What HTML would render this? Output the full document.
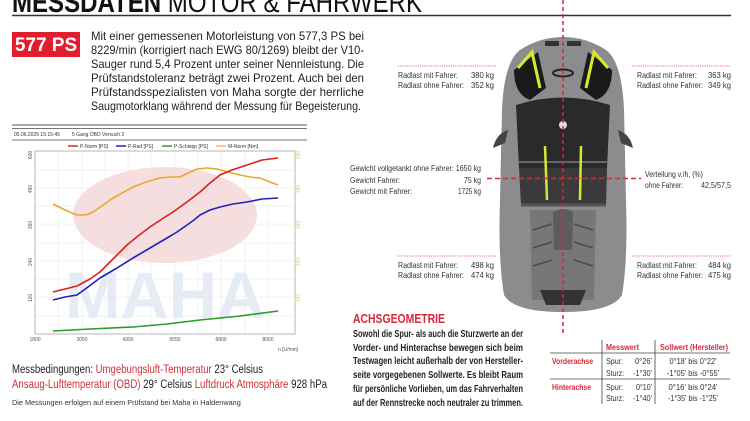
<!DOCTYPE html>
<html><head><meta charset="utf-8"><style>
html,body{margin:0;padding:0;background:#fff;width:750px;height:421px;overflow:hidden}
svg{display:block}
text{font-family:"Liberation Sans",sans-serif}
</style></head><body>
<svg width="750" height="421" viewBox="0 0 750 421" xmlns="http://www.w3.org/2000/svg">
<text x="12" y="12" font-size="29" fill="#111" textLength="410" lengthAdjust="spacingAndGlyphs"><tspan font-weight="bold">MESSDATEN</tspan> MOTOR &amp; FAHRWERK</text>
<line x1="12" y1="15.5" x2="731" y2="15.5" stroke="#333" stroke-width="1.5"/>
<rect x="12" y="32" width="68" height="25" fill="#e01e2e"/>
<text x="46" y="51" font-size="19" font-weight="bold" fill="#fff" text-anchor="middle">577 PS</text>
<g font-size="12" fill="#222">
<text x="91" y="40" textLength="273" lengthAdjust="spacingAndGlyphs">Mit einer gemessenen Motorleistung von 577,3 PS bei</text>
<text x="91" y="54" textLength="273" lengthAdjust="spacingAndGlyphs">8229/min (korrigiert nach EWG 80/1269) bleibt der V10-</text>
<text x="91" y="68" textLength="273" lengthAdjust="spacingAndGlyphs">Sauger rund 5,4 Prozent unter seiner Nennleistung. Die</text>
<text x="91" y="82" textLength="273" lengthAdjust="spacingAndGlyphs">Prüfstandstoleranz beträgt zwei Prozent. Auch bei den</text>
<text x="91" y="96" textLength="273" lengthAdjust="spacingAndGlyphs">Prüfstandsspezialisten von Maha sorgte der herrliche</text>
<text x="91" y="110" textLength="270" lengthAdjust="spacingAndGlyphs">Saugmotorklang während der Messung für Begeisterung.</text>
</g>
<line x1="12" y1="125" x2="307" y2="125" stroke="#aaa" stroke-width="2"/>
<line x1="12" y1="128.5" x2="307" y2="128.5" stroke="#777"/>
<line x1="12" y1="140" x2="307" y2="140" stroke="#777"/>
<text x="14" y="136" font-size="5" fill="#333">05.06.2025 15:15:45</text>
<text x="72" y="136" font-size="5" fill="#333">5 Gang OBD Versuch 2</text>
<g font-size="5" fill="#333">
<line x1="68" y1="146" x2="78" y2="146" stroke="#d22" stroke-width="1.5"/><text x="80" y="148">P-Norm [PS]</text>
<line x1="116" y1="146" x2="126" y2="146" stroke="#22c" stroke-width="1.5"/><text x="128" y="148">P-Rad [PS]</text>
<line x1="162" y1="146" x2="172" y2="146" stroke="#393" stroke-width="1.5"/><text x="174" y="148">P-Schlepp [PS]</text>
<line x1="216" y1="146" x2="226" y2="146" stroke="#eb4" stroke-width="1.5"/><text x="228" y="148">M-Norm [Nm]</text>
</g>
<ellipse cx="165" cy="215" rx="92" ry="48" fill="#f6dede"/>
<text x="165" y="318" font-size="66" font-weight="bold" fill="#e6ecf5" text-anchor="middle" textLength="200" lengthAdjust="spacingAndGlyphs">MAHA</text>
<g stroke="#e6e6e6" stroke-width="0.5">
<line x1="35" y1="170" x2="295" y2="170"/><line x1="35" y1="188" x2="295" y2="188"/><line x1="35" y1="206" x2="295" y2="206"/><line x1="35" y1="224" x2="295" y2="224"/><line x1="35" y1="243" x2="295" y2="243"/><line x1="35" y1="261" x2="295" y2="261"/><line x1="35" y1="279" x2="295" y2="279"/><line x1="35" y1="297" x2="295" y2="297"/><line x1="35" y1="316" x2="295" y2="316"/>
<line x1="58" y1="151" x2="58" y2="334"/><line x1="82" y1="151" x2="82" y2="334"/><line x1="105" y1="151" x2="105" y2="334"/><line x1="128" y1="151" x2="128" y2="334"/><line x1="151" y1="151" x2="151" y2="334"/><line x1="175" y1="151" x2="175" y2="334"/><line x1="198" y1="151" x2="198" y2="334"/><line x1="221" y1="151" x2="221" y2="334"/><line x1="245" y1="151" x2="245" y2="334"/><line x1="268" y1="151" x2="268" y2="334"/>
</g>
<rect x="35" y="151" width="260" height="183" fill="none" stroke="#999" stroke-width="0.7"/>
<g font-size="5" fill="#555">
<text x="32" y="155" transform="rotate(-90 32 155)" text-anchor="middle">600</text>
<text x="32" y="189" transform="rotate(-90 32 189)" text-anchor="middle">480</text>
<text x="32" y="225" transform="rotate(-90 32 225)" text-anchor="middle">360</text>
<text x="32" y="262" transform="rotate(-90 32 262)" text-anchor="middle">240</text>
<text x="32" y="298" transform="rotate(-90 32 298)" text-anchor="middle">120</text>
<text x="35" y="341" text-anchor="middle">1800</text><text x="82" y="341" text-anchor="middle">3050</text><text x="128" y="341" text-anchor="middle">4300</text><text x="175" y="341" text-anchor="middle">5550</text><text x="221" y="341" text-anchor="middle">6800</text><text x="268" y="341" text-anchor="middle">8050</text>
<text x="278" y="351">n [U/min]</text>
</g>
<g font-size="5" fill="#e8c870">
<text x="300" y="155" transform="rotate(-90 300 155)" text-anchor="middle">600</text>
<text x="300" y="189" transform="rotate(-90 300 189)" text-anchor="middle">480</text>
<text x="300" y="225" transform="rotate(-90 300 225)" text-anchor="middle">360</text>
<text x="300" y="262" transform="rotate(-90 300 262)" text-anchor="middle">240</text>
<text x="300" y="298" transform="rotate(-90 300 298)" text-anchor="middle">120</text>
</g>
<g fill="none" stroke-width="1.6" stroke-linejoin="round">
<polyline stroke="#e8a830" points="53,204 65,210 77,215 86,215 93,212 102,206 110,200 122,193 133,187 146,182 160,178 170,177 180,177 190,172 197,169 207,168 217,169 228,172 240,175 250,177 260,178 270,182 278,185"/>
<polyline stroke="#d92020" points="53,292 65,289 77,286 90,279 100,272 113,259 127,245 138,236 150,227 162,219 173,212 187,202 200,192 210,183 220,175 232,170 247,165 262,160 278,158"/>
<polyline stroke="#2020c0" points="53,300 65,297 77,295 88,287 100,278 117,268 133,258 150,248 167,238 177,232 187,225 194,220 200,215 210,210 220,207 233,204 247,202 262,199 278,198"/>
<polyline stroke="#2a9a2a" points="53,331 90,329 133,327 167,324 200,320 240,316 278,311"/>
</g>
<g font-size="11.5">
<text x="12" y="373" fill="#222" textLength="251" lengthAdjust="spacingAndGlyphs">Messbedingungen: <tspan fill="#d0303a">Umgebungsluft-Temperatur</tspan>  23° Celsius</text>
<text x="12" y="388" fill="#d0303a" textLength="315" lengthAdjust="spacingAndGlyphs">Ansaug-Lufttemperatur (OBD) <tspan fill="#222">29° Celsius</tspan> Luftdruck Atmosphäre <tspan fill="#222">928 hPa</tspan></text>
</g>
<text x="12" y="405" font-size="7.3" fill="#333">Die Messungen erfolgen auf einem Prüfstand bei Maha in Haldenwang</text>

<g>
<path d="M520,50 Q540,37 563,37 Q586,37 606,50 Q622,62 624,110 L626,200 Q628,260 622,295 Q612,312 563,312 Q514,312 504,295 Q498,260 500,200 L502,110 Q504,62 520,50Z" fill="#8a8c8e"/>
<path d="M508,130 Q496,134 493,148 L505,143Z" fill="#444"/>
<path d="M618,130 Q630,134 633,148 L621,143Z" fill="#444"/>
<path d="M514,70 L538,52 L546,88 L530,100 Q514,94 514,70Z" fill="#1a1a1a"/>
<path d="M612,70 L588,52 L580,88 L596,100 Q612,94 612,70Z" fill="#1a1a1a"/>
<path d="M518,68 L532,52 L540,88" stroke="#d8e830" stroke-width="3" fill="none"/>
<path d="M608,68 L594,52 L586,88" stroke="#d8e830" stroke-width="3" fill="none"/>
<rect x="545" y="41" width="14" height="5" fill="#333"/><rect x="567" y="41" width="14" height="5" fill="#333"/>
<ellipse cx="563" cy="73" rx="10" ry="3.5" fill="none" stroke="#222" stroke-width="2"/>
<path d="M516,105 Q563,90 610,105 L607,168 L519,168Z" fill="#2a2a2a"/>
<path d="M519,168 L607,168 L606,205 L521,205Z" fill="#3a3a3a"/>
<line x1="519" y1="162" x2="607" y2="162" stroke="#666" stroke-width="2"/>
<line x1="521" y1="205" x2="606" y2="205" stroke="#555" stroke-width="3"/>
<line x1="545" y1="146" x2="547" y2="200" stroke="#d8e830" stroke-width="2.5"/>
<line x1="581" y1="146" x2="580" y2="200" stroke="#d8e830" stroke-width="2.5"/>
<circle cx="563" cy="125" r="4" fill="#ddd"/>
<path d="M530,210 L596,210 L594,300 L532,300Z" fill="#777"/>
<path d="M553,212 Q563,206 573,212 L572,250 L554,250Z" fill="#5c5c5c"/>
<g stroke="#4a4a4a" stroke-width="1.5"><line x1="533" y1="230" x2="552" y2="224"/><line x1="533" y1="248" x2="552" y2="242"/><line x1="533" y1="266" x2="552" y2="260"/><line x1="593" y1="230" x2="574" y2="224"/><line x1="593" y1="248" x2="574" y2="242"/><line x1="593" y1="266" x2="574" y2="260"/></g>
<path d="M540,290 L586,290 L580,305 L546,305Z" fill="#333"/>
</g>
<line x1="563" y1="0" x2="563" y2="335" stroke="#d4283a" stroke-width="1.5" stroke-dasharray="4,3"/>
<line x1="487" y1="178.5" x2="641" y2="178.5" stroke="#d4283a" stroke-width="1.5" stroke-dasharray="5,3"/>
<g stroke="#d4283a" stroke-width="0.8" stroke-dasharray="1,1.2">
<line x1="398" y1="66" x2="496" y2="66"/><line x1="632" y1="66" x2="731" y2="66"/>
<line x1="398" y1="256" x2="496" y2="256"/><line x1="632" y1="256" x2="731" y2="256"/>
</g>
<g font-size="8" fill="#333">
<text x="398" y="78" textLength="60" lengthAdjust="spacingAndGlyphs">Radlast mit Fahrer:</text><text x="494" y="78" text-anchor="end" textLength="23" lengthAdjust="spacingAndGlyphs">380 kg</text>
<text x="398" y="88" textLength="66" lengthAdjust="spacingAndGlyphs">Radlast ohne Fahrer:</text><text x="494" y="88" text-anchor="end" textLength="23" lengthAdjust="spacingAndGlyphs">352 kg</text>
<text x="637" y="78" textLength="60" lengthAdjust="spacingAndGlyphs">Radlast mit Fahrer:</text><text x="731" y="78" text-anchor="end" textLength="23" lengthAdjust="spacingAndGlyphs">363 kg</text>
<text x="637" y="88" textLength="66" lengthAdjust="spacingAndGlyphs">Radlast ohne Fahrer:</text><text x="731" y="88" text-anchor="end" textLength="23" lengthAdjust="spacingAndGlyphs">349 kg</text>
<text x="398" y="268" textLength="60" lengthAdjust="spacingAndGlyphs">Radlast mit Fahrer:</text><text x="494" y="268" text-anchor="end" textLength="23" lengthAdjust="spacingAndGlyphs">498 kg</text>
<text x="398" y="278" textLength="66" lengthAdjust="spacingAndGlyphs">Radlast ohne Fahrer:</text><text x="494" y="278" text-anchor="end" textLength="23" lengthAdjust="spacingAndGlyphs">474 kg</text>
<text x="637" y="268" textLength="60" lengthAdjust="spacingAndGlyphs">Radlast mit Fahrer:</text><text x="731" y="268" text-anchor="end" textLength="23" lengthAdjust="spacingAndGlyphs">484 kg</text>
<text x="637" y="278" textLength="66" lengthAdjust="spacingAndGlyphs">Radlast ohne Fahrer:</text><text x="731" y="278" text-anchor="end" textLength="23" lengthAdjust="spacingAndGlyphs">475 kg</text>
<text x="350" y="171" textLength="131" lengthAdjust="spacingAndGlyphs">Gewicht vollgetankt ohne Fahrer: 1650 kg</text>
<text x="350" y="183" textLength="50" lengthAdjust="spacingAndGlyphs">Gewicht Fahrer:</text><text x="481" y="183" text-anchor="end" textLength="17" lengthAdjust="spacingAndGlyphs">75 kg</text>
<text x="350" y="194" textLength="62" lengthAdjust="spacingAndGlyphs">Gewicht mit Fahrer:</text><text x="481" y="194" text-anchor="end" textLength="23" lengthAdjust="spacingAndGlyphs">1725 kg</text>
<text x="645" y="177" textLength="58" lengthAdjust="spacingAndGlyphs">Verteilung v./h. (%)</text>
<text x="645" y="188" textLength="38" lengthAdjust="spacingAndGlyphs">ohne Fahrer:</text><text x="731" y="188" text-anchor="end" textLength="30" lengthAdjust="spacingAndGlyphs">42,5/57,5</text>
</g>
<text x="353" y="323" font-size="13" font-weight="bold" fill="#d4283a" textLength="92" lengthAdjust="spacingAndGlyphs">ACHSGEOMETRIE</text>
<g font-size="10.5" fill="#222" font-weight="bold">
<text x="353" y="337" textLength="170" lengthAdjust="spacingAndGlyphs">Sowohl die Spur- als auch die Sturzwerte an der</text>
<text x="353" y="351" textLength="170" lengthAdjust="spacingAndGlyphs">Vorder- und Hinterachse bewegen sich beim</text>
<text x="353" y="364" textLength="170" lengthAdjust="spacingAndGlyphs">Testwagen leicht außerhalb der von Hersteller-</text>
<text x="353" y="378" textLength="170" lengthAdjust="spacingAndGlyphs">seite vorgegebenen Sollwerte. Es bleibt Raum</text>
<text x="353" y="392" textLength="170" lengthAdjust="spacingAndGlyphs">für persönliche Vorlieben, um das Fahrverhalten</text>
<text x="353" y="406" textLength="170" lengthAdjust="spacingAndGlyphs">auf der Rennstrecke noch neutraler zu trimmen.</text>
</g>
<g stroke="#444" stroke-width="0.8">
<line x1="602" y1="340" x2="602" y2="404"/><line x1="655" y1="340" x2="655" y2="404"/>
<line x1="550" y1="353" x2="730" y2="353"/><line x1="550" y1="379" x2="730" y2="379"/>
</g>
<g font-size="8">
<text x="606" y="350" fill="#d4283a" font-weight="bold" textLength="33" lengthAdjust="spacingAndGlyphs">Messwert</text>
<text x="660" y="350" fill="#d4283a" font-weight="bold" textLength="68" lengthAdjust="spacingAndGlyphs">Sollwert (Hersteller)</text>
<text x="552" y="364" fill="#d4283a" font-weight="bold" textLength="41" lengthAdjust="spacingAndGlyphs">Vorderachse</text>
<text x="552" y="390" fill="#d4283a" font-weight="bold" textLength="39" lengthAdjust="spacingAndGlyphs">Hinterachse</text>
<g fill="#333">
<text x="606" y="364" textLength="17" lengthAdjust="spacingAndGlyphs">Spur:</text><text x="652" y="364" text-anchor="end" textLength="17" lengthAdjust="spacingAndGlyphs">0°26'</text><text x="693" y="364" text-anchor="middle" textLength="47" lengthAdjust="spacingAndGlyphs">0°18' bis 0°22'</text>
<text x="606" y="376" textLength="18" lengthAdjust="spacingAndGlyphs">Sturz:</text><text x="652" y="376" text-anchor="end" textLength="19" lengthAdjust="spacingAndGlyphs">-1°30'</text><text x="693" y="376" text-anchor="middle" textLength="52" lengthAdjust="spacingAndGlyphs">-1°05' bis -0°55'</text>
<text x="606" y="390" textLength="17" lengthAdjust="spacingAndGlyphs">Spur:</text><text x="652" y="390" text-anchor="end" textLength="16" lengthAdjust="spacingAndGlyphs">0°10'</text><text x="693" y="390" text-anchor="middle" textLength="49" lengthAdjust="spacingAndGlyphs">0°16' bis  0°24'</text>
<text x="606" y="401" textLength="18" lengthAdjust="spacingAndGlyphs">Sturz:</text><text x="652" y="401" text-anchor="end" textLength="19" lengthAdjust="spacingAndGlyphs">-1°40'</text><text x="693" y="401" text-anchor="middle" textLength="50" lengthAdjust="spacingAndGlyphs">-1°35' bis -1°25'</text>
</g>
</g>
</svg>
</body></html>
